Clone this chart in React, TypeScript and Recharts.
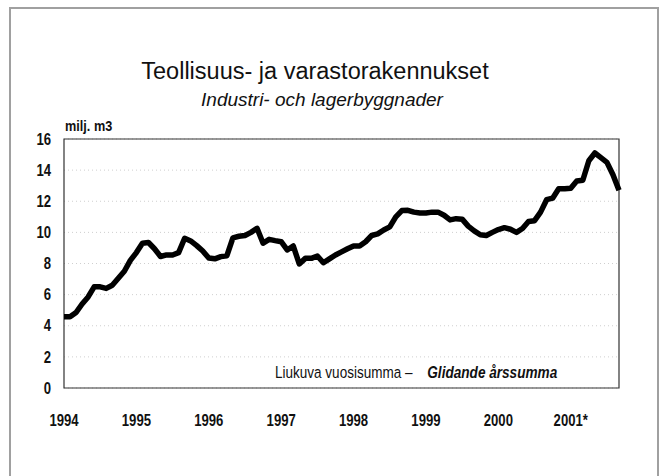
import React from 'react';
import { LineChart, Line, XAxis, YAxis, CartesianGrid, ReferenceArea } from 'recharts';

// monthly moving annual total, Jan 1994 - Sep 2001 (milj. m3)
const values = [
  4.58, 4.58, 4.85, 5.4, 5.85, 6.5, 6.5, 6.4, 6.6, 7.05, 7.5, 8.2,
  8.7, 9.3, 9.35, 8.95, 8.45, 8.55, 8.55, 8.7, 9.62, 9.45, 9.15, 8.8,
  8.35, 8.3, 8.44, 8.5, 9.65, 9.75, 9.8, 10.0, 10.26, 9.3, 9.55, 9.47,
  9.4, 8.87, 9.13, 7.97, 8.33, 8.33, 8.48, 8.05, 8.3, 8.55, 8.75, 8.95,
  9.13, 9.13, 9.4, 9.8, 9.9, 10.15, 10.35, 11.0, 11.4, 11.42, 11.3, 11.25,
  11.25, 11.3, 11.3, 11.1, 10.8, 10.88, 10.85, 10.4, 10.1, 9.85, 9.8, 10.0,
  10.18, 10.3, 10.2, 10.0, 10.25, 10.7, 10.75, 11.3, 12.1, 12.2, 12.8, 12.8,
  12.84, 13.3, 13.35, 14.6, 15.1, 14.8, 14.5, 13.7, 12.7,
];
const yearLabels = ['1994', '1995', '1996', '1997', '1998', '1999', '2000', '2001*'];
const yTicks = [0, 2, 4, 6, 8, 10, 12, 14, 16];

const title = 'Teollisuus- ja varastorakennukset';
const subtitle = 'Industri- och lagerbyggnader';
const unit = 'milj. m3';
const noteFi = 'Liukuva vuosisumma –';
const noteSv = 'Glidande årssumma';

const data = values.map((v, i) => ({ m: i, v }));
const xTicks = yearLabels.map((_, i) => i * 12);

const sans = '"Liberation Sans", Arial, sans-serif';
// the original uses a condensed face; squeeze Liberation Sans horizontally
const squeeze = 0.82;

const CondensedTick = (props: any) => {
  const { x, y, payload, anchor, dyEm, fmt } = props;
  return (
    <g transform={`translate(${x},${y}) scale(${squeeze},1)`}>
      <text textAnchor={anchor} dy={`${dyEm}em`} fontSize={16} fontWeight="bold" fontFamily={sans} fill="#111">
        {fmt ? fmt(payload.value) : payload.value}
      </text>
    </g>
  );
};

const App: React.FC = () => {
  return (
    <div style={{ position: 'absolute', left: 0, top: 0, width: 660, height: 476, background: '#fff', overflow: 'hidden' }}>
      <div
        style={{
          position: 'absolute',
          left: 9,
          top: 7,
          width: 646,
          height: 500,
          border: '2px solid #a0a0a0',
        }}
      />
      <LineChart
        width={660}
        height={476}
        data={data}
        margin={{ top: 139, right: 41, left: 24, bottom: 48 }}
        style={{ position: 'absolute', left: 0, top: 0 }}
      >
        <CartesianGrid vertical={false} stroke="#cfcfcf" strokeDasharray="1 3" />
        <XAxis
          dataKey="m"
          type="number"
          domain={[0, values.length - 1]}
          ticks={xTicks}
          axisLine={false}
          tickLine={false}
          tickSize={6}
          tickMargin={21}
          height={40}
          interval={0}
          tick={<CondensedTick anchor="middle" dyEm={0.71} fmt={(v: number) => yearLabels[v / 12]} />}
        />
        <YAxis
          domain={[0, 16]}
          ticks={yTicks}
          axisLine={false}
          tickLine={false}
          tickSize={6}
          tickMargin={7}
          width={40}
          interval={0}
          tick={<CondensedTick anchor="end" dyEm={0.355} />}
        />
        <ReferenceArea
          x1={0}
          x2={values.length - 1}
          y1={0}
          y2={16}
          fill="none"
          fillOpacity={0}
          stroke="#333"
          strokeWidth={1.2}
        />
        <Line
          type="linear"
          dataKey="v"
          stroke="#000"
          strokeWidth={5.5}
          strokeLinejoin="round"
          dot={false}
          isAnimationActive={false}
        />
      </LineChart>
      <svg width={660} height={476} style={{ position: 'absolute', left: 0, top: 0, pointerEvents: 'none' }}>
        <text x={315} y={79} textAnchor="middle" fontFamily={sans} fontSize={23.5} fill="#111">
          {title}
        </text>
        <text x={322} y={105.5} textAnchor="middle" fontFamily={sans} fontStyle="italic" fontSize={19} fill="#111">
          {subtitle}
        </text>
        <g transform={`translate(65,131) scale(${squeeze},1)`}>
          <text x={0} y={0} fontFamily={sans} fontSize={15.5} fontWeight="bold" fill="#111">
            {unit}
          </text>
        </g>
        <g transform={`translate(275,378) scale(${squeeze},1)`}>
          <text x={0} y={0} fontFamily={sans} fontSize={16.5} fill="#111">
            {noteFi}
            <tspan dx={18} fontStyle="italic" fontWeight="bold" fontSize={16.6}>
              {noteSv}
            </tspan>
          </text>
        </g>
      </svg>
    </div>
  );
};

export default App;
